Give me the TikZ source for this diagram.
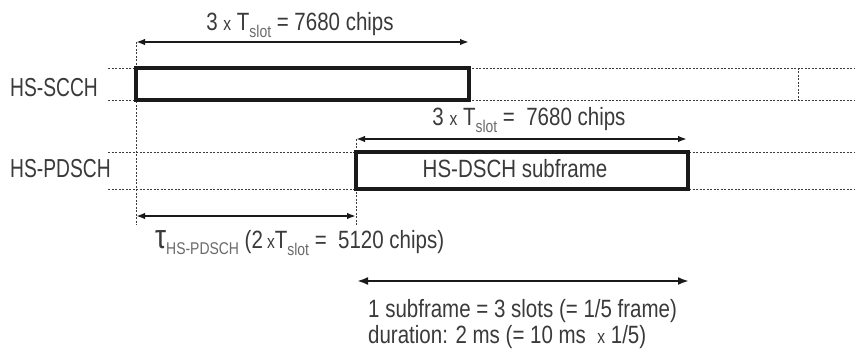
\documentclass[tikz,border=0pt]{standalone}
\usepackage{fontspec}
\setmainfont{Liberation Sans}[FakeStretch=0.82]
\newfontfamily\rowfont{Liberation Sans}[FakeStretch=0.74]
\usetikzlibrary{arrows.meta}
\definecolor{txt}{HTML}{3A3A3A}
\definecolor{subc}{HTML}{6A6A6A}
\definecolor{ln}{HTML}{1A1A1A}
\newcommand{\Tslot}{T\raisebox{-0.28em}{\fontsize{17}{17}\selectfont\color{subc}slot}}
\newcommand{\smx}{{\fontsize{19}{19}\selectfont x}}
\tikzset{
  guide/.style={draw=ln!85, line width=0.8pt, dash pattern=on 2pt off 1.5pt},
  framebox/.style={draw=ln, line width=4pt, inner sep=0pt, outer sep=0pt, anchor=north west},
  dim/.style={draw=ln, line width=1.8pt, {Latex[length=9pt,width=6.5pt]}-{Latex[length=9pt,width=6.5pt]}},
  bigdim/.style={draw=ln, line width=2.8pt, {Latex[length=11pt,width=8pt]}-{Latex[length=11pt,width=8pt]}},
  lbl/.style={inner sep=0pt, text=txt, font=\fontsize{25}{25}\selectfont},
  rowlbl/.style={inner sep=0pt, text=txt, font=\rowfont\fontsize{26}{26}\selectfont, anchor=base west},
}
\begin{document}
\begin{tikzpicture}[x=1pt,y=-1pt]
\useasboundingbox (0,0) rectangle (855,353);
% guide coordinates
\coordinate (s1l) at (108,68);  \coordinate (s1r) at (855,68);
\coordinate (s2l) at (108,100); \coordinate (s2r) at (855,100);
\coordinate (p1l) at (108,152); \coordinate (p1r) at (855,152);
\coordinate (p2l) at (108,189); \coordinate (p2r) at (855,189);
\coordinate (v1t) at (136,42);  \coordinate (v1b) at (136,225);
\coordinate (v2t) at (356,139); \coordinate (v2b) at (356,225);
\coordinate (v3t) at (798,68);  \coordinate (v3b) at (798,100);
% dotted guides
\draw[guide] (s1l) -- (s1r);
\draw[guide] (s2l) -- (s2r);
\draw[guide] (p1l) -- (p1r);
\draw[guide] (p2l) -- (p2r);
\draw[guide] (v1t) -- (v1b);
\draw[guide] (v2t) -- (v2b);
\draw[guide] (v3t) -- (v3b);
% boxes
\node[framebox, minimum width=333pt, minimum height=32pt] (scch) at (136,68) {};
\node[framebox, minimum width=332pt, minimum height=37pt] (pdsch) at (356,152) {};
% row labels
\node[rowlbl] (lscch) at (10,97) {HS-SCCH};
\node[rowlbl] (lpdsch) at (10,177) {HS-PDSCH};
% dimension arrows
\coordinate (a1l) at (136,42);  \coordinate (a1r) at (469,42);
\coordinate (a2l) at (356,139); \coordinate (a2r) at (687,139);
\coordinate (a3l) at (136,216); \coordinate (a3r) at (356,216);
\coordinate (a4l) at (357,281); \coordinate (a4r) at (689,281);
\draw[dim] (a1l) -- (a1r);
\draw[dim] (a2l) -- (a2r);
\draw[dim] (a3l) -- (a3r);
\draw[bigdim] (a4l) -- (a4r);
% texts
\node[lbl, anchor=base] (t1) at (300,31) {3 \smx{} \Tslot{} = 7680 chips};
\node[lbl, anchor=base] (t2) at (529,125) {3 \smx{} \Tslot{} =\ \ 7680 chips};
\node[lbl, anchor=base] (t3) at (515,177) {HS-DSCH subframe};
\node[lbl, anchor=base west] (t4) at (155,248) {{\fontsize{34}{34}\selectfont τ}\raisebox{-0.25em}{\fontsize{17}{17}\selectfont\color{subc}HS-PDSCH} (2\,\smx\Tslot{} = \ 5120 chips)};
\node[lbl, anchor=base west] (t5) at (368,317) {1 subframe = 3 slots (= 1/5 frame)};
\node[lbl, anchor=base west] (t6) at (368,343) {duration: 2 ms (= 10 ms \ \smx{} 1/5)};
\end{tikzpicture}
\end{document}
